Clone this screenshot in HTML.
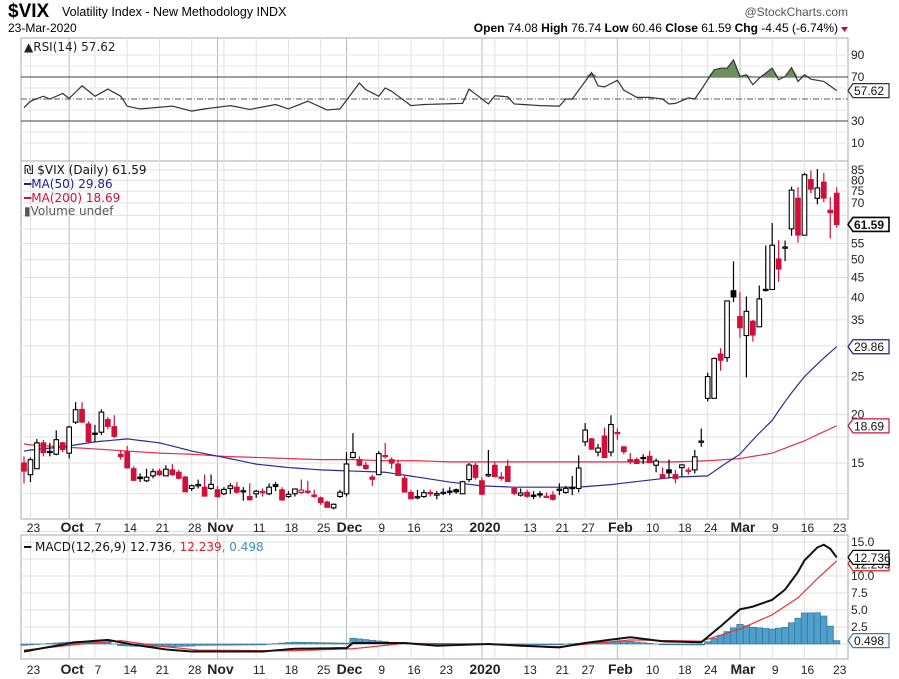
<!DOCTYPE html>
<html><head><meta charset="utf-8"><style>
body{margin:0;background:#fff;}
svg{display:block;font-family:"Liberation Sans",sans-serif;}
</style></head><body>
<svg id="chart" width="899" height="679" viewBox="0 0 899 679">
<g id="hdr">
<text x="8" y="17" font-size="19" font-weight="bold">$VIX</text>
<text x="62" y="16" font-size="12.5">Volatility Index - New Methodology  INDX</text>
<text x="848" y="16" font-size="12" fill="#555" text-anchor="end">@StockCharts.com</text>
<text x="8" y="32" font-size="12">23-Mar-2020</text>
<text x="838" y="32" font-size="12" text-anchor="end"><tspan font-weight="bold">Open</tspan> 74.08 <tspan font-weight="bold">High</tspan> 76.74 <tspan font-weight="bold">Low</tspan> 60.46 <tspan font-weight="bold">Close</tspan> 61.59 <tspan font-weight="bold">Chg</tspan> -4.45 (-6.74%)</text>
<path d="M841 27 L848 27 L844.5 32 Z" fill="#b0103a"/>
</g>
<g id="grid"></g>
<g id="rsi"></g>
<g id="main"></g>
<g id="macd"></g>
<g id="axes"></g>
</svg>
<script>
// ---- data ----
const opens=[15.0,14.0,14.5,16.9,16.0,15.8,16.9,15.9,19.1,20.6,18.9,17.9,18.0,19.4,18.6,15.8,16.0,14.5,13.8,13.5,13.9,14.3,13.9,14.4,14.2,13.8,12.9,13.1,13.0,12.9,12.8,12.5,12.9,13.0,12.7,12.3,12.5,12.6,12.5,13.2,12.8,12.3,12.5,12.6,12.7,12.4,12.2,11.9,11.5,12.3,12.5,15.5,15.3,14.8,13.8,14.0,15.6,15.3,14.9,13.7,12.6,12.2,12.3,12.6,12.4,12.6,12.7,12.8,12.5,13.6,14.8,13.5,13.9,14.8,13.8,14.7,12.9,12.4,12.6,12.4,12.5,12.3,12.4,12.8,12.6,12.9,12.9,17.0,17.3,16.0,17.6,16.0,17.9,16.5,15.3,15.3,15.5,15.6,14.8,14.0,14.4,14.0,14.6,14.3,14.4,17.0,22.0,22.0,28.6,28.0,41.6,35.7,31.9,34.7,33.6,41.8,41.9,50.2,53.5,60.0,71.9,57.8,80.3,71.9,79.1,67.0,74.08];
const highs=[15.6,15.5,17.3,17.2,16.9,18.2,17.0,18.7,21.5,21.5,19.2,18.8,20.6,19.7,19.9,16.2,16.6,14.7,14.1,14.5,14.5,14.5,14.8,14.9,14.4,13.9,13.2,13.6,14.0,14.0,13.1,13.0,13.3,13.4,13.0,13.3,12.8,12.9,13.3,13.4,13.0,12.7,12.9,13.6,13.5,12.8,12.3,12.0,11.8,12.8,16.0,17.9,15.6,15.1,14.0,16.1,16.9,15.5,15.3,14.0,12.8,12.8,12.8,12.8,12.7,12.9,13.0,12.9,13.5,15.0,15.0,13.8,16.2,15.1,14.2,15.3,13.0,12.9,12.8,12.7,12.7,12.6,12.7,13.3,13.1,13.9,15.7,19.0,17.4,16.8,18.5,19.9,18.4,16.6,15.9,15.5,15.8,16.1,15.4,14.6,15.3,14.4,14.9,14.6,16.2,18.4,25.6,28.0,29.6,39.2,49.5,41.3,40.2,35.0,42.9,54.4,62.1,56.1,56.0,77.0,76.8,83.6,84.8,85.5,83.6,72.4,76.74];
const lows=[13.3,13.4,14.5,15.6,15.6,15.7,16.0,15.4,18.9,19.0,16.9,17.0,17.7,18.3,17.4,15.3,14.6,13.5,13.4,13.4,13.7,13.9,13.9,13.9,13.6,12.6,12.7,12.9,12.3,12.8,12.2,12.4,12.5,12.5,12.0,12.0,12.2,12.3,12.4,12.7,12.0,12.2,12.3,12.5,12.5,12.2,11.7,11.5,11.4,12.2,12.3,15.4,14.7,14.4,13.1,14.0,15.4,14.5,13.9,12.6,12.1,12.1,12.2,12.3,12.1,12.4,12.4,12.5,12.5,13.4,13.6,12.4,13.8,13.8,13.5,13.4,12.4,12.3,12.2,12.1,12.2,12.2,12.0,12.4,12.5,12.4,12.6,16.6,16.2,15.6,15.5,15.6,17.2,15.8,14.9,14.9,14.9,15.0,14.2,13.7,13.7,13.3,13.8,14.0,14.1,16.5,21.6,22.0,25.9,27.3,38.9,31.5,24.9,30.8,33.6,41.4,41.9,43.8,49.6,57.6,55.3,57.8,74.0,69.4,70.3,56.7,60.46];
const closes=[14.3,15.3,16.9,15.96,16.07,17.22,16.24,18.56,20.56,19.12,17.04,17.86,20.28,18.64,17.57,15.58,14.57,13.54,13.68,13.79,14.25,14.00,14.46,14.01,13.71,12.65,13.11,13.20,12.33,13.22,12.30,12.83,13.10,12.62,12.73,12.07,12.69,12.68,13.00,13.05,12.05,12.46,12.86,12.78,12.69,12.34,11.87,11.54,11.75,12.62,14.91,15.96,14.80,14.52,13.62,15.86,15.68,14.99,13.94,12.63,12.14,12.29,12.58,12.50,12.51,12.61,12.65,12.65,13.43,14.82,13.78,12.47,14.02,13.85,13.79,13.45,12.54,12.56,12.32,12.39,12.42,12.32,12.10,12.85,12.91,12.98,14.56,18.23,16.28,16.39,15.49,18.84,17.97,16.05,15.15,14.96,15.47,15.04,15.18,13.74,14.15,13.68,14.83,14.38,15.56,17.08,25.03,27.85,27.56,39.16,40.11,33.42,36.82,31.99,39.62,41.94,54.46,47.30,53.90,75.47,57.83,82.69,75.91,76.45,72.00,66.04,61.59];
const maIdx=[0,1,6,11,16,21,26,31,36,41,46,51,56,61,66,71,76,81,86,91,96,101,106,111,116,121,126];
const ma50=[16.1,16.2,16.5,17.0,17.3,16.9,16.1,15.5,14.9,14.6,14.4,14.3,14.2,13.8,13.4,13.1,13.0,13.0,13.0,13.2,13.5,13.8,13.9,15.8,19.3,25.0,29.86];
const ma200=[16.8,16.7,16.5,16.3,16.1,15.9,15.8,15.6,15.5,15.4,15.3,15.3,15.2,15.2,15.1,15.1,15.1,15.1,15.1,15.1,15.1,15.1,15.2,15.4,15.9,17.1,18.69];
const rsiIdx=[0,1,3,4,6,7,9,11,13,15,16,18,23,26,28,32,35,39,41,44,47,49,52,53,55,56,57,60,62,68,69,72,73,75,76,80,83,84,85,88,89,90,92,93,95,97,99,100,101,103,104,105,107,108,109,110,111,112,113,114,116,117,118,119,120,121,122,124,126];
const rsiVal=[42,48,52.5,50,55,50.5,62,52.5,59,52.5,43.5,41,43.5,39,41,44,40.5,45,41,48,40,41,64.5,58.5,52.5,60,57,44,45,46,59,45.5,53,52,45.5,44,43.5,50,50,74,62,61,67,58,51.5,51.5,50,45.5,46,51,50,58.5,76.5,78,78,85.5,70.5,72,63,69,78,67.5,70.5,78.5,66,72,68,66,57.62];
const macdIdx=[0,8,13,17,22,26,37,42,50,51,59,64,72,77,83,87,94,99,105,108,111,113,116,118,120,121,123,124,125,126];
const macdVal=[-1.1,0.25,0.6,-0.1,-0.8,-1.1,-1.1,-0.7,-0.6,0.15,0.15,-0.25,0,-0.25,-0.5,0.15,1.0,0.4,0.25,2.6,5.1,5.5,6.5,8.0,10.6,12.3,14.2,14.6,14.0,12.736];
const sigIdx=[0,9,15,21,27,41,51,59,72,83,94,105,111,116,120,123,126];
const sigVal=[-0.9,0.0,0.5,-0.3,-0.9,-1.0,-0.7,0.1,0.0,-0.4,0.6,0.4,2.2,4.3,6.8,9.6,12.239];
const tickIdx=[1,7,11,16,21,26,30,36,41,46,50,55,60,65,71,78,83,87,92,97,102,106,111,116,121,126];
const tickLbl=["23","Oct","7","14","21","28","Nov","11","18","25","Dec","9","16","23","2020","13","21","27","Feb","10","18","24","Mar","9","16","23"];
const mainTicks=[15,20,25,35,40,45,50,55,70,75,80,85];
const rsiTicks=[90,70,30,10];
const macdTicks=["15.0","10.0","7.5","5.0","2.5"];

// ---- scales ----
const L=21,R=848;
const x=i=>24+i*6.45;
const yMain=v=>463-Math.log(v/15)*168.9;
const yRsi=v=>121-(v-30)*1.1;
const yMacd=v=>644-v*6.8;
const NS="http://www.w3.org/2000/svg";
function mk(tag,attrs,parent){const e=document.createElementNS(NS,tag);for(const k in attrs)e.setAttribute(k,attrs[k]);parent.appendChild(e);return e;}
function interp(idx,val,i){for(let k=0;k<idx.length-1;k++){if(i>=idx[k]&&i<=idx[k+1]){const t=(i-idx[k])/(idx[k+1]-idx[k]);return val[k]+t*(val[k+1]-val[k]);}}return val[val.length-1];}
const N=closes.length;
const grid=document.getElementById('grid'),rsiG=document.getElementById('rsi'),mainG=document.getElementById('main'),macdG=document.getElementById('macd'),axG=document.getElementById('axes');

// panels
const panels=[[38,161,'rsi-panel'],[161,519,'price-panel'],[535,659,'macd-panel']];
panels.forEach(p=>{const r=mk('rect',{x:L,y:p[0],width:R-L,height:p[1]-p[0],fill:'#fff',stroke:'#aaa','stroke-width':1},grid);

});
// vertical grid
const monthIdx=[7,30,50,71,92,111];
const vIdx=tickIdx.concat([31,73]);
vIdx.forEach(i=>{const isM=monthIdx.indexOf(i)>=0;
[[38,161],[161,519],[535,659]].forEach(p=>{const l=mk('line',{x1:x(i),x2:x(i),y1:p[0],y2:p[1],stroke:isM?'#bbb':'#e0e0e0','stroke-width':1},grid);

});});
// horizontal grid
[10,12.5,15,17.5,20,25,30,35,40,45,50,55,60,65,70,75,80,85].forEach(v=>{const l=mk('line',{x1:L,x2:R,y1:yMain(v),y2:yMain(v),stroke:'#e0e0e0'},grid);

});
[90,80,60,40,20,10].forEach(v=>{const l=mk('line',{x1:L,x2:R,y1:yRsi(v),y2:yRsi(v),stroke:'#e6e6e6'},grid);

});
[15,12.5,10,7.5,5,2.5,0].forEach(v=>{const l=mk('line',{x1:L,x2:R,y1:yMacd(v),y2:yMacd(v),stroke:'#e0e0e0'},grid);

});

// RSI
[[70,'#666',''],[30,'#666',''],[50,'#777','6,2,1,2']].forEach(a=>{const l=mk('line',{x1:L,x2:R,y1:yRsi(a[0]),y2:yRsi(a[0]),stroke:a[1],'stroke-width':1.2,'stroke-dasharray':a[2]},rsiG);

});
let rpts=[];for(let i=0;i<N;i++)rpts.push([x(i),yRsi(interp(rsiIdx,rsiVal,i))]);
// overbought fill
let fillD='';let run=[];
for(let i=0;i<N;i++){const v=interp(rsiIdx,rsiVal,i);if(v>70){run.push(i);}else if(run.length){fillD+=seg(run);run=[];}}
if(run.length)fillD+=seg(run);
function seg(r){const a=r[0]-1,b=r[r.length-1]+1;let d='M'+x(a)+' '+yRsi(70);for(const i of r)d+=' L'+x(i)+' '+yRsi(interp(rsiIdx,rsiVal,i));d+=' L'+x(Math.min(b,N-1))+' '+yRsi(70)+'Z ';return d;}
const rf=mk('path',{d:fillD,fill:'#6b8f5e'},rsiG);


const rl=mk('polyline',{points:rpts.map(p=>p.join(',')).join(' '),fill:'none',stroke:'#333','stroke-width':1.2},rsiG);



// MAs
function maLine(arr,color,name){let p=[];for(let i=0;i<N;i++)p.push(x(i)+','+yMain(interp(maIdx,arr,i)));
const e=mk('polyline',{points:p.join(' '),fill:'none',stroke:color,'stroke-width':1.2},mainG);

}
maLine(ma200,'#e0304a','ma200-line');
maLine(ma50,'#2a2aa0','ma50-line');
// candles
for(let i=0;i<N;i++){const o=opens[i],c=closes[i],h=highs[i],l=lows[i];
const prev=i>0?closes[i-1]:o;const col=c<prev?'#d0103a':'#000';
const g=mk('g',{},mainG);


mk('line',{x1:x(i),x2:x(i),y1:yMain(h),y2:yMain(l),stroke:col,'stroke-width':1.2},g);
const top=yMain(Math.max(o,c)),bot=yMain(Math.min(o,c));
mk('rect',{x:x(i)-2.3,y:top,width:4.6,height:Math.max(1.2,bot-top),fill:c>=o?'#fff':col,stroke:col,'stroke-width':1.1},g);}

// MACD
let hd='';for(let i=0;i<N;i++){const h=interp(macdIdx,macdVal,i)-interp(sigIdx,sigVal,i);const y0=yMacd(0),y1=yMacd(h);
const b=mk('rect',{x:x(i)-3.2,y:Math.min(y0,y1),width:6.4,height:Math.abs(y1-y0),fill:'#4f9fcb',stroke:'#2f6f94','stroke-width':0.6},macdG);

}
function ln(idx,val,color,name,w){let p=[];for(let i=0;i<N;i++)p.push(x(i)+','+yMacd(interp(idx,val,i)));
const e=mk('polyline',{points:p.join(' '),fill:'none',stroke:color,'stroke-width':w},macdG);

}
ln(sigIdx,sigVal,'#f03030','macd-signal-line',1.2);
ln(macdIdx,macdVal,'#111','macd-line',2);

// right axis labels
function lab(t,xx,yy,name,extra){const e=mk('text',Object.assign({x:xx,y:yy+4,'font-size':12,fill:'#222'},extra||{}),axG);e.textContent=t;

return e;}
mainTicks.forEach(v=>lab(String(v),851,yMain(v),'price-tick-label'));
rsiTicks.forEach(v=>lab(String(v),851,yRsi(v),'rsi-tick-label'));
macdTicks.forEach(v=>lab(v,851,yMacd(parseFloat(v)),'macd-tick-label'));
// x tick labels
const bold=['Oct','Nov','Dec','2020','Feb','Mar'];
tickIdx.forEach((i,k)=>{[528,670].forEach(yy=>{const e=mk('text',{x:x(i)+3,y:yy+4,'font-size':bold.indexOf(tickLbl[k])>=0?14:12,'font-weight':bold.indexOf(tickLbl[k])>=0?'bold':'normal','text-anchor':'middle',fill:'#222'},axG);e.textContent=tickLbl[k];

});});
// value tags
function tag(t,yy,color,name,bold){const g=mk('g',{},axG);


mk('path',{d:`M${R} ${yy} L${R+5} ${yy-7} L${R+41} ${yy-7} L${R+41} ${yy+7} L${R+5} ${yy+7} Z`,fill:'#fff',stroke:color,'stroke-width':bold?1.6:1.2},g);
const e=mk('text',{x:R+6,y:yy+4.5,'font-size':12,'font-weight':bold?'bold':'normal',fill:'#111'},g);e.textContent=t;}
tag('57.62',yRsi(57.62),'#333','rsi-value-tag');
tag('18.69',yMain(18.69),'#d0103a','ma200-value-tag');
tag('29.86',yMain(29.86),'#1a1a9a','ma50-value-tag');
tag('61.59',yMain(61.59),'#000','close-value-tag',true);
tag('12.239',yMacd(12.239)+3,'#e02020','signal-value-tag');
tag('12.736',yMacd(12.736),'#000','macd-value-tag');
tag('0.498',yMacd(0.498),'#3a7ab0','histogram-value-tag');

// legends
function leg(parts,xx,yy,name){const e=mk('text',{x:xx,y:yy,'font-size':12,'font-family':'DejaVu Sans, sans-serif'},axG);


parts.forEach(p=>{const s=mk('tspan',{fill:p[1]},e);s.textContent=p[0];});}
leg([['▲RSI(14) 57.62','#222']],24,51,'rsi-legend');
leg([['₪ $VIX (Daily) 61.59','#111']],24,174,'price-legend');
leg([['━MA(50) 29.86','#1a1a9a']],24,188,'ma50-legend');
leg([['━MA(200) 18.69','#d0103a']],24,202,'ma200-legend');
leg([['▮Volume undef','#555']],24,215,'volume-legend');
leg([['━ MACD(12,26,9) 12.736','#111'],[', 12.239','#e02020'],[', 0.498','#3a8fc0']],24,551,'macd-legend');
</script>
</body></html>
